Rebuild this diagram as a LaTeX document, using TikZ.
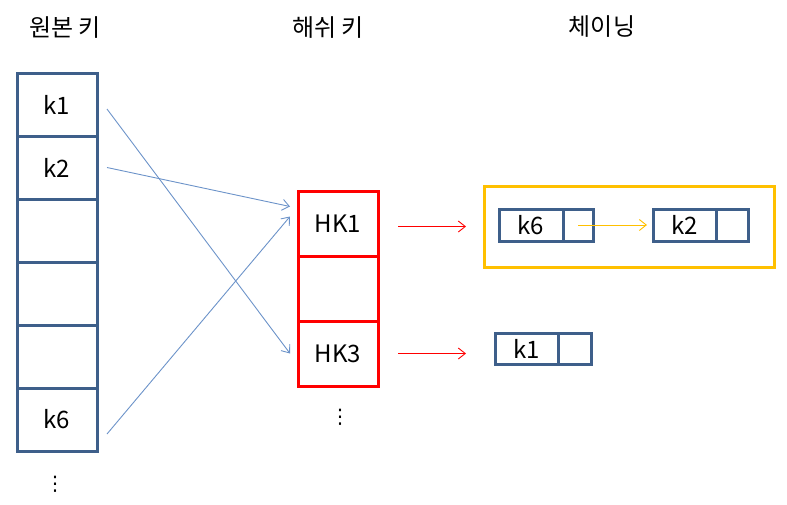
\documentclass[tikz,border=0pt]{standalone}
\usepackage{fontspec}
\setmainfont{Noto Sans CJK KR}
\newfontfamily\symfont{DejaVu Sans}
\usetikzlibrary{positioning,arrows.meta}
\definecolor{keyblue}{RGB}{62,95,138}
\definecolor{linkblue}{RGB}{108,147,201}
\definecolor{chainorange}{RGB}{255,192,0}
\begin{document}
\begin{tikzpicture}[x=1pt, y=-1pt, node distance={0pt},
  title/.style = {font=\fontsize{24}{28}\selectfont},
  cell/.style = {draw=keyblue, line width=3pt, minimum width=80pt, minimum height=63pt, outer sep=0pt, inner sep=0pt, font=\fontsize{24}{28}\selectfont},
  hcell/.style = {draw=red, line width=3pt, minimum width=80pt, minimum height=65pt, outer sep=0pt, inner sep=0pt, font=\fontsize{24}{28}\selectfont},
  item/.style = {draw=keyblue, line width=3pt, minimum height=32pt, outer sep=0pt, inner sep=0pt, font=\fontsize{24}{28}\selectfont},
  dots/.style = {font=\symfont\fontsize{20}{22}\selectfont, inner sep=0pt},
  link/.style = {draw=linkblue, line width=0.9pt, -{Straight Barb[length=7pt,width=11pt]}},
  hop/.style = {draw=red, line width=0.9pt, -{Straight Barb[length=7pt,width=11pt]}},
  next/.style = {draw=chainorange, line width=0.9pt, -{Straight Barb[length=7pt,width=11pt]}}]
\useasboundingbox (0,0) rectangle (787,504);
% titles
\node[title] (t1) at (65,28) {원본 키};
\node[title] (t2) at (328,28) {해쉬 키};
\node[title] (t3) at (602,27) {체이닝};
% original keys
\node[cell] (o1) at (57,104.5) {k1};
\node[cell] (o2) [below=of o1] {k2};
\node[cell] (o3) [below=of o2] {};
\node[cell] (o4) [below=of o3] {};
\node[cell] (o5) [below=of o4] {};
\node[cell] (o6) [below=of o5] {k6};
\node[dots] (d1) at (55,484) {⋮};
% hash keys
\node[hcell] (h1) at (338,223.5) {HK1};
\node[hcell] (h2) [below=of h1] {};
\node[hcell] (h3) [below=of h2] {HK3};
\node[dots] (d2) at (340,417) {⋮};
% chaining
\node[draw=chainorange, line width=3pt, minimum width=290pt, minimum height=81pt] (chain) at (629,226.5) {};
\node[item, minimum width=64pt] (c6) at (531,225) {k6};
\node[item, minimum width=30pt] (c6p) [right=of c6] {};
\node[item, minimum width=63pt] (c2) [right=60pt of c6p] {k2};
\node[item, minimum width=32pt] (c2p) [right=of c2] {};
\node[item, minimum width=63pt, minimum height=31pt] (c1) at (526.5,348.5) {k1};
\node[item, minimum width=33pt, minimum height=31pt] (c1p) [right=of c1] {};
% arrows
\draw[link] ([xshift=10pt,yshift=-4.5pt]o1.east) -- ([xshift=-8pt]h3.west);
\draw[link] ([xshift=10pt]o2.east) -- ([xshift=-8pt,yshift=17pt]h1.west);
\draw[link] ([xshift=10pt,yshift=-14.5pt]o6.east) -- ([xshift=-8pt,yshift=7pt]h1.west);
\draw[hop] ([xshift=20pt,yshift=-3pt]h1.east) -- ([xshift=-33pt,yshift=-1.5pt]c6.west);
\draw[hop] ([xshift=20pt]h3.east) -- ([xshift=-29pt]c1.west |- h3.east);
\draw[next] (c6p.center) -- ([xshift=-6pt]c2.west);
\end{tikzpicture}
\end{document}
